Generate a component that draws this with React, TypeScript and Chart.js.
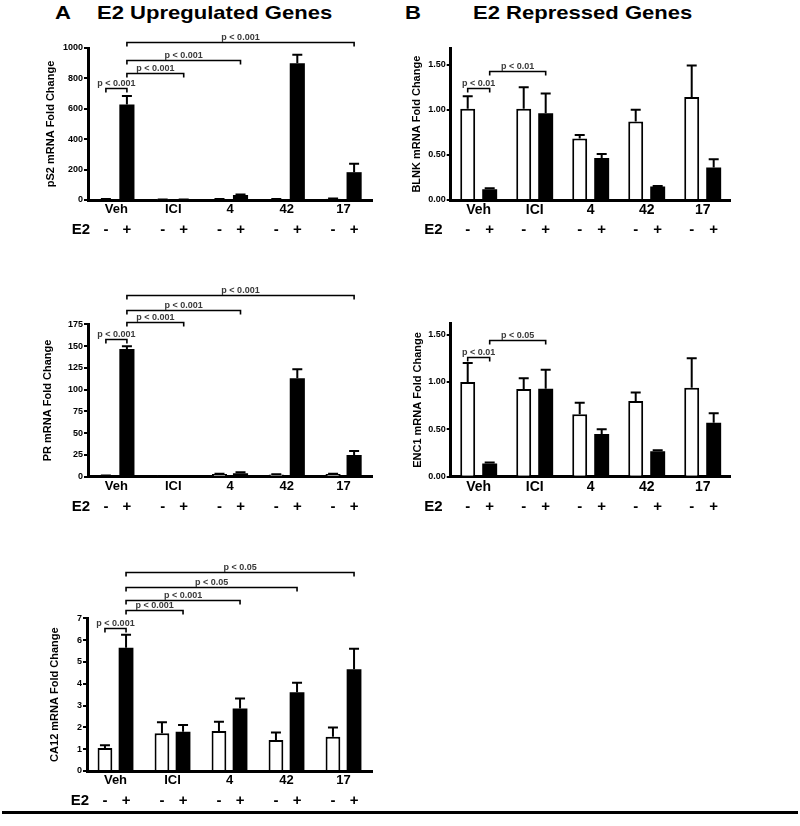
import React, { useEffect, useRef } from 'react';
import { Chart, registerables } from 'chart.js';

Chart.register(...registerables);
Chart.defaults.font.family = "'Liberation Sans', Arial, sans-serif";
Chart.defaults.color = '#000';

// ---------- data ----------
const groups = ['Veh', 'ICI', '4', '42', '17'];

// pS2
const ps2Minus = [5, 3, 5, 5, 8];
const ps2MinusErr = [2, 1, 1, 1, 2];
const ps2Plus = [629, 3, 33, 900, 183];
const ps2PlusErr = [55, 1, 3, 55, 55];
// bar index = group*2 + (0 for "-", 1 for "+"); level in axis units
const ps2Brackets: [number, number, number, string][] = [
  [0, 1, 740, 'p < 0.001'],
  [1, 3, 834, 'p < 0.001'],
  [1, 5, 920, 'p < 0.001'],
  [1, 9, 1040, 'p < 0.001'],
];

// PR
const prMinus = [1, 0.5, 3, 2.5, 3];
const prMinusErr = [0.3, 0.2, 0.3, 0.3, 0.3];
const prPlus = [146.7, 0.5, 4, 113, 25];
const prPlusErr = [3, 0.2, 1, 10.5, 4.5];
const prBrackets: [number, number, number, string][] = [
  [0, 1, 157.8, 'p < 0.001'],
  [1, 3, 178, 'p < 0.001'],
  [1, 5, 191.4, 'p < 0.001'],
  [1, 9, 208.6, 'p < 0.001'],
];

// CA12
const ca12Minus = [1.05, 1.73, 1.83, 1.42, 1.57];
const ca12MinusErr = [0.13, 0.5, 0.43, 0.34, 0.42];
const ca12Plus = [5.65, 1.8, 2.87, 3.61, 4.66];
const ca12PlusErr = [0.6, 0.31, 0.45, 0.44, 0.94];
const ca12Brackets: [number, number, number, string][] = [
  [0, 1, 6.54, 'p < 0.001'],
  [1, 3, 7.38, 'p < 0.001'],
  [1, 5, 7.84, 'p < 0.001'],
  [1, 7, 8.45, 'p < 0.05'],
  [1, 9, 9.11, 'p < 0.05'],
];

// BLNK
const blnkMinus = [1.01, 1.01, 0.68, 0.87, 1.14];
const blnkMinusErr = [0.14, 0.24, 0.04, 0.13, 0.35];
const blnkPlus = [0.12, 0.96, 0.465, 0.15, 0.36];
const blnkPlusErr = [0.01, 0.22, 0.045, 0.005, 0.09];
const blnkBrackets: [number, number, number, string][] = [
  [0, 1, 1.235, 'p < 0.01'],
  [1, 3, 1.427, 'p < 0.01'],
];

// ENC1
const enc1Minus = [1.0, 0.925, 0.66, 0.8, 0.94];
const enc1MinusErr = [0.2, 0.115, 0.12, 0.09, 0.31];
const enc1Plus = [0.14, 0.93, 0.45, 0.27, 0.57];
const enc1PlusErr = [0.01, 0.2, 0.05, 0.01, 0.1];
const enc1Brackets: [number, number, number, string][] = [
  [0, 1, 1.265, 'p < 0.01'],
  [1, 3, 1.448, 'p < 0.05'],
];

const repressedTicks = [0, 0.5, 1, 1.5];
const e2Signs = ['-', '+'];

// ---------- panels (layout) ----------
type Panel = {
  key: string;
  left: number; top: number; width: number; height: number;
  area: { l: number; r: number; t: number; b: number };
  title: string; titleX: number;
  yMax: number; yStep?: number; fixedTicks?: number[]; decimals: number;
  minus: number[]; minusErr: number[]; plus: number[]; plusErr: number[];
  brackets: [number, number, number, string][];
  catFont: number; catPct: number; barPct: number; e2dx: number;
};

const panels: Panel[] = [
  {
    key: 'ps2', left: 0, top: 30, width: 400, height: 220,
    area: { l: 88, r: 372, t: 48, b: 200 },
    title: 'pS2 mRNA Fold Change', titleX: 51,
    yMax: 1000, yStep: 200, decimals: 0,
    minus: ps2Minus, minusErr: ps2MinusErr, plus: ps2Plus, plusErr: ps2PlusErr,
    brackets: ps2Brackets, catFont: 13, catPct: 0.74, barPct: 0.72, e2dx: 2,
  },
  {
    key: 'pr', left: 0, top: 270, width: 400, height: 250,
    area: { l: 88, r: 372, t: 324.3, b: 476.7 },
    title: 'PR mRNA Fold Change', titleX: 47.5,
    yMax: 175, yStep: 25, decimals: 0,
    minus: prMinus, minusErr: prMinusErr, plus: prPlus, plusErr: prPlusErr,
    brackets: prBrackets, catFont: 13, catPct: 0.74, barPct: 0.72, e2dx: 2,
  },
  {
    key: 'ca12', left: 0, top: 548, width: 400, height: 262,
    area: { l: 87, r: 372, t: 618.3, b: 771 },
    title: 'CA12 mRNA Fold Change', titleX: 55,
    yMax: 7, yStep: 1, decimals: 0,
    minus: ca12Minus, minusErr: ca12MinusErr, plus: ca12Plus, plusErr: ca12PlusErr,
    brackets: ca12Brackets, catFont: 13, catPct: 0.74, barPct: 0.7, e2dx: 2,
  },
  {
    key: 'blnk', left: 400, top: 30, width: 400, height: 220,
    area: { l: 450.7, r: 730.7, t: 48.3, b: 200 },
    title: 'BLNK mRNA Fold Change', titleX: 416.5,
    yMax: 1.68, fixedTicks: repressedTicks, decimals: 2,
    minus: blnkMinus, minusErr: blnkMinusErr, plus: blnkPlus, plusErr: blnkPlusErr,
    brackets: blnkBrackets, catFont: 14, catPct: 0.785, barPct: 0.68, e2dx: -8,
  },
  {
    key: 'enc1', left: 400, top: 270, width: 400, height: 250,
    area: { l: 450.7, r: 730.7, t: 323.3, b: 476.7 },
    title: 'ENC1 mRNA Fold Change', titleX: 418,
    yMax: 1.62, fixedTicks: repressedTicks, decimals: 2,
    minus: enc1Minus, minusErr: enc1MinusErr, plus: enc1Plus, plusErr: enc1PlusErr,
    brackets: enc1Brackets, catFont: 14, catPct: 0.785, barPct: 0.68, e2dx: -8,
  },
];

// ---------- plugin: error bars, brackets, E2 row ----------
const annotPlugin = {
  id: 'annot',
  afterDatasetsDraw(chart: any, _args: any, opts: any) {
    const ctx = chart.ctx;
    const y = chart.scales.y;
    ctx.save();
    ctx.strokeStyle = '#000';
    ctx.lineWidth = 2;
    (opts.errors as number[][]).forEach((errs, di) => {
      const meta = chart.getDatasetMeta(di);
      const data = chart.data.datasets[di].data as number[];
      meta.data.forEach((el: any, i: number) => {
        const topPx = y.getPixelForValue(data[i] + errs[i]);
        const cap = 5;
        ctx.beginPath();
        ctx.moveTo(el.x, el.y);
        ctx.lineTo(el.x, topPx);
        ctx.moveTo(el.x - cap, topPx);
        ctx.lineTo(el.x + cap, topPx);
        ctx.stroke();
      });
    });
    ctx.restore();
  },
  afterDraw(chart: any, _args: any, opts: any) {
    const ctx = chart.ctx;
    const y = chart.scales.y;
    const barX = (b: number) => chart.getDatasetMeta(b % 2).data[Math.floor(b / 2)].x;
    ctx.save();
    // brackets
    ctx.strokeStyle = '#000';
    ctx.lineWidth = 1.6;
    (opts.brackets as [number, number, number, string][]).forEach(([a, b, lvl, label]) => {
      const x1 = barX(a);
      const x2 = barX(b);
      const py = Math.round(y.getPixelForValue(lvl)) + 0.5;
      ctx.beginPath();
      ctx.moveTo(x1, py + 4);
      ctx.lineTo(x1, py);
      ctx.lineTo(x2, py);
      ctx.lineTo(x2, py + 4);
      ctx.stroke();
      ctx.fillStyle = '#3a3a3a';
      ctx.font = "bold 9px 'Liberation Sans', Arial, sans-serif";
      ctx.textAlign = 'center';
      ctx.textBaseline = 'alphabetic';
      ctx.fillText(label, (x1 + x2) / 2, py - 2.5);
    });
    // E2 row
    const rowY = chart.chartArea.bottom + 30;
    ctx.fillStyle = '#000';
    ctx.font = "bold 15px 'Liberation Sans', Arial, sans-serif";
    ctx.textBaseline = 'middle';
    ctx.textAlign = 'right';
    ctx.fillText('E2', chart.chartArea.left + opts.e2dx, rowY);
    ctx.textAlign = 'center';
    [0, 1].forEach((di) => {
      chart.getDatasetMeta(di).data.forEach((el: any) => {
        ctx.fillText(e2Signs[di], el.x, rowY);
      });
    });
    ctx.restore();
  },
};

function BarPanel({ p }: { p: Panel }) {
  const ref = useRef<HTMLCanvasElement>(null);
  useEffect(() => {
    if (!ref.current) return;
    const titleFont = 11;
    const titlePad = p.titleX - p.left - (titleFont * 1.2) / 2;
    const chart = new Chart(ref.current, {
      type: 'bar',
      data: {
        labels: groups,
        datasets: [
          {
            data: p.minus,
            backgroundColor: '#ffffff',
            borderColor: '#000000',
            borderWidth: 2,
            borderSkipped: 'start',
            categoryPercentage: p.catPct,
            barPercentage: p.barPct,
          },
          {
            data: p.plus,
            backgroundColor: '#000000',
            borderColor: '#000000',
            borderWidth: 0,
            categoryPercentage: p.catPct,
            barPercentage: p.barPct,
          },
        ],
      },
      options: {
        responsive: false,
        animation: false,
        events: [],
        layout: {
          padding: {
            top: p.area.t - p.top,
            right: p.left + p.width - p.area.r,
            bottom: 0,
            left: 0,
          },
        },
        plugins: {
          legend: { display: false },
          tooltip: { enabled: false },
          annot: {
            errors: [p.minusErr, p.plusErr],
            brackets: p.brackets,
            e2dx: p.e2dx,
          },
        } as any,
        scales: {
          x: {
            z: 1,
            grid: { display: false, drawTicks: false },
            border: { display: true, width: 3, color: '#000' },
            ticks: {
              color: '#000',
              padding: 2,
              font: { size: p.catFont, weight: 'bold' },
            },
            afterFit: (s: any) => {
              s.height = p.height - (p.area.b - p.top);
            },
          },
          y: {
            z: 1,
            min: 0,
            max: p.yMax,
            grid: {
              drawOnChartArea: false,
              drawTicks: true,
              tickLength: 4,
              color: '#000',
              lineWidth: 2,
            },
            border: { display: true, width: 3, color: '#000' },
            ticks: {
              color: '#000',
              padding: 1,
              stepSize: p.yStep,
              font: { size: 9, weight: 'bold' },
              callback: (v: any) => Number(v).toFixed(p.decimals),
            },
            afterBuildTicks: (s: any) => {
              if (p.fixedTicks) s.ticks = p.fixedTicks.map((v) => ({ value: v }));
            },
            title: {
              display: true,
              text: p.title,
              color: '#000',
              font: { size: titleFont, weight: 'bold' },
              padding: { top: titlePad, bottom: 0 },
            },
            afterFit: (s: any) => {
              s.width = p.area.l - p.left;
            },
          },
        },
      } as any,
      plugins: [annotPlugin as any],
    });
    return () => chart.destroy();
  }, []);
  return (
    <canvas
      ref={ref}
      width={p.width}
      height={p.height}
      style={{ position: 'absolute', left: p.left, top: p.top, width: p.width, height: p.height }}
    />
  );
}

const headFont: React.CSSProperties = {
  position: 'absolute',
  top: 3,
  fontFamily: "'Liberation Sans', Arial, sans-serif",
  fontWeight: 'bold',
  fontSize: 19,
  lineHeight: '19px',
  whiteSpace: 'nowrap',
  transform: 'scaleX(1.16)',
  transformOrigin: 'left top',
  color: '#000',
};

export default function App() {
  return (
    <div style={{ position: 'absolute', left: 0, top: 0, width: 800, height: 826, background: '#fff' }}>
      <div style={{ ...headFont, left: 55 }}>A</div>
      <div style={{ ...headFont, left: 97 }}>E2 Upregulated Genes</div>
      <div style={{ ...headFont, left: 405 }}>B</div>
      <div style={{ ...headFont, left: 473 }}>E2 Repressed Genes</div>
      {panels.map((p) => (
        <BarPanel key={p.key} p={p} />
      ))}
      <div style={{ position: 'absolute', left: 2, top: 811, width: 796, height: 3, background: '#000' }} />
    </div>
  );
}
